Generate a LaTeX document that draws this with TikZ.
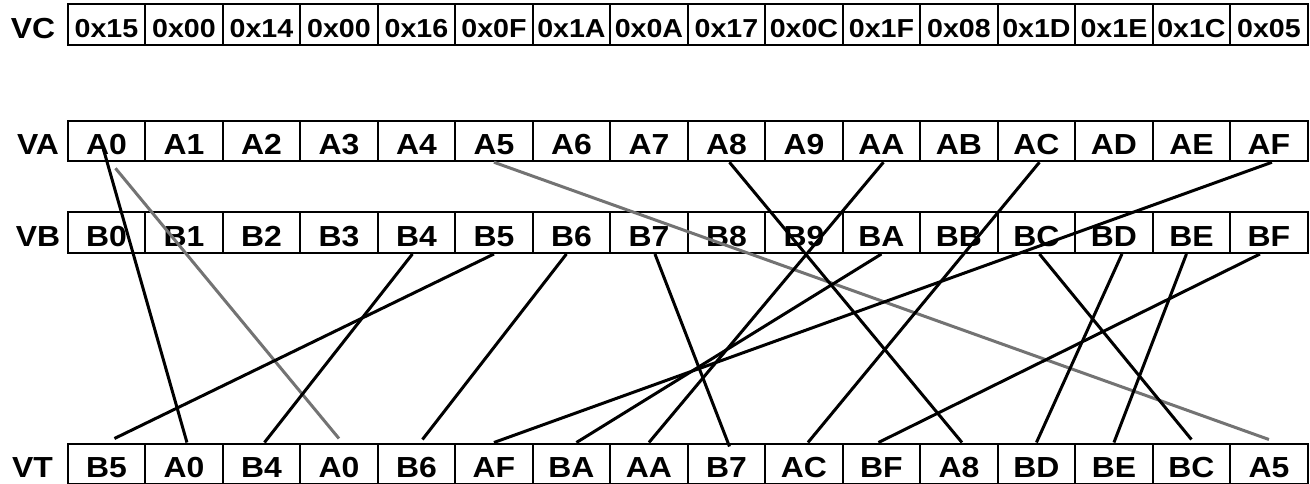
\documentclass[tikz,border=0pt]{standalone}
\usepackage{fontspec}
\setmainfont[BoldFeatures={FakeStretch=1.1}]{Liberation Sans}
\usetikzlibrary{calc}
\tikzset{
  cell/.style={draw, line width=2pt, minimum width=77.5pt, minimum height=40pt,
    inner sep=0pt, text height=27pt, text depth=0pt,
    font=\bfseries\fontsize{29}{29}\selectfont},
  hexcell/.style={cell, minimum height=41pt, text height=25pt, font=\bfseries\fontsize{26}{26}\selectfont},
  rowlabel/.style={inner sep=0pt, text height=27pt, text depth=0pt,
    font=\bfseries\fontsize{29}{29}\selectfont},
  wire/.style={line width=3pt, draw=black},
  greywire/.style={line width=3pt, draw=black!55}
}
\begin{document}
\begin{tikzpicture}[x=1pt,y=-1pt]
          \useasboundingbox (0,0) rectangle (1310,484);

          \node[rowlabel] (VC) at (33,25) {VC};
          \node[rowlabel] (VA) at (38,141.25) {VA};
          \node[rowlabel] (VB) at (38,232.5) {VB};
          \node[rowlabel] (VT) at (32.5,463.5) {VT};

          \foreach \t [count=\i from 0] in {0x15,0x00,0x14,0x00,0x16,0x0F,0x1A,0x0A,0x17,0x0C,0x1F,0x08,0x1D,0x1E,0x1C,0x05}
            \node[hexcell] (VC-\i) at ({106.45+77.5*\i},25) {\t};
          \foreach \t [count=\i from 0] in {A0,A1,A2,A3,A4,A5,A6,A7,A8,A9,AA,AB,AC,AD,AE,AF}
            \node[cell] (VA-\i) at ({106.45+77.5*\i},141.25) {\t};
          \foreach \t [count=\i from 0] in {B0,B1,B2,B3,B4,B5,B6,B7,B8,B9,BA,BB,BC,BD,BE,BF}
            \node[cell, minimum height=41pt] (VB-\i) at ({106.45+77.5*\i},232.5) {\t};
          \foreach \t [count=\i from 0] in {B5,A0,B4,A0,B6,AF,BA,AA,B7,AC,BF,A8,BD,BE,BC,A5}
            \node[cell] (VT-\i) at ({106.45+77.5*\i},463.5) {\t};

          % VA -> VT
          \draw[wire] ([shift={(-3,-13)}]VA-0.south) to ([xshift=3]VT-1.north);
          \draw[greywire] ([shift={(9,6)}]VA-0.south) to ([yshift=4]VT-3.north);
          \draw[greywire] (VA-5.south) to ([yshift=3]VT-15.north);
          \draw[wire] ([xshift=3]VA-8.south) to ([xshift=3]VT-11.north);
          \draw[wire] ([xshift=2]VA-10.south) to (VT-7.north);
          \draw[wire] ([xshift=3]VA-12.south) to ([xshift=4]VT-9.north);
          \draw[wire] ([xshift=3]VA-15.south) to (VT-5.north);

          % VB -> VT
          \draw[wire] ([xshift=-4]VB-4.south) to ([xshift=3]VT-2.north);
          \draw[wire] (VB-5.south) to ([shift={(8,-4)}]VT-0.north);
          \draw[wire] ([xshift=-5]VB-6.south) to ([shift={(6,-3)}]VT-4.north);
          \draw[wire] ([xshift=6]VB-7.south) to ([shift={(3,4)}]VT-8.north);
          \draw[wire] (VB-10.south) to ([xshift=5]VT-6.north);
          \draw[wire] ([xshift=3]VB-12.south) to ([yshift=3]VT-14.north);
          \draw[wire] ([xshift=8]VB-13.south) to (VT-12.north);
          \draw[wire] ([xshift=-5]VB-14.south) to (VT-13.north);
          \draw[wire] ([xshift=-9]VB-15.south) to ([xshift=-3]VT-10.north);
        \end{tikzpicture}
\end{document}
